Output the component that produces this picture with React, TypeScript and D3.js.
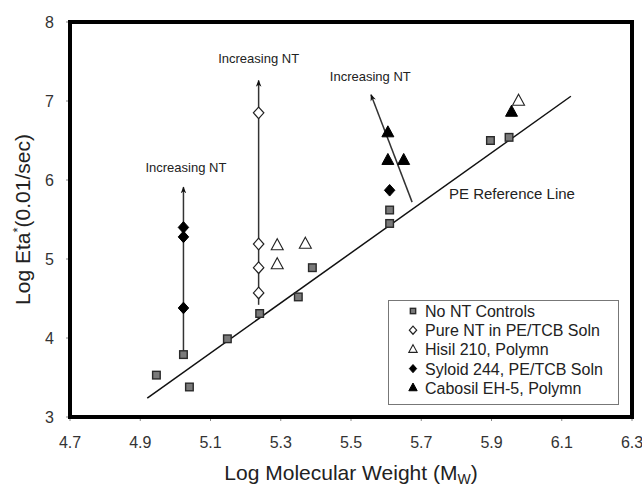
import React from "react";
import * as d3 from "d3";

const W = 642, H = 487;
const M = { left: 70, right: 632, top: 22, bottom: 417 };

const xTicks = [4.7, 4.9, 5.1, 5.3, 5.5, 5.7, 5.9, 6.1, 6.3];
const yTicks = [3, 4, 5, 6, 7, 8];

const controlsX = [4.946, 5.023, 5.04, 5.148, 5.24, 5.35, 5.39, 5.61, 5.61, 5.897, 5.95];
const controlsY = [3.53, 3.79, 3.38, 3.99, 4.31, 4.52, 4.89, 5.62, 5.45, 6.5, 6.54];

const pureX = [5.237, 5.237, 5.237, 5.237];
const pureY = [6.85, 5.19, 4.89, 4.57];

const hisilX = [5.29, 5.29, 5.37, 5.977];
const hisilY = [5.17, 4.93, 5.19, 7.0];

const syloidX = [5.023, 5.023, 5.023, 5.61];
const syloidY = [5.4, 5.28, 4.38, 5.87];

const cabosilX = [5.605, 5.605, 5.65, 5.957];
const cabosilY = [6.6, 6.25, 6.25, 6.86];

const refLineX = [4.92, 6.126];
const refLineY = [3.24, 7.06];

// arrows: [x0, y0, x1, y1]
const arrowsX0 = [5.023, 5.237, 5.674];
const arrowsY0 = [3.79, 4.42, 5.72];
const arrowsX1 = [5.023, 5.237, 5.557];
const arrowsY1 = [5.91, 7.26, 7.08];
const arrowLabelX = [5.03, 5.237, 5.555];
const arrowLabelY = [6.1, 7.48, 7.25];

const legendLabels = [
  "No NT Controls",
  "Pure NT in PE/TCB Soln",
  "Hisil 210, Polymn",
  "Syloid 244, PE/TCB Soln",
  "Cabosil EH-5, Polymn",
];

const FONT = "'Liberation Sans', Arial, sans-serif";

const x = d3.scaleLinear().domain([4.7, 6.3]).range([M.left, M.right]);
const y = d3.scaleLinear().domain([3, 8]).range([M.bottom, M.top]);

function Marker({ kind, cx, cy, s = 1 }: { kind: string; cx: number; cy: number; s?: number }) {
  if (kind === "square") {
    const h = 3.8 * s;
    return <rect x={cx - h} y={cy - h} width={2 * h} height={2 * h} fill="#7a7a7a" stroke="#2a2a2a" strokeWidth={1.4} />;
  }
  if (kind === "diamond" || kind === "fdiamond") {
    const r = 5.8 * s;
    const d = `M${cx},${cy - r}L${cx + r * 0.9},${cy}L${cx},${cy + r}L${cx - r * 0.9},${cy}Z`;
    return kind === "diamond" ? (
      <path d={d} fill="#fff" stroke="#222" strokeWidth={1.2} />
    ) : (
      <path d={d} fill="#000" stroke="#000" strokeWidth={1} />
    );
  }
  const r = 6.8 * s;
  const d = `M${cx},${cy - r}L${cx + r * 0.88},${cy + r * 0.62}L${cx - r * 0.88},${cy + r * 0.62}Z`;
  return kind === "triangle" ? (
    <path d={d} fill="#fff" stroke="#222" strokeWidth={1.1} />
  ) : (
    <path d={d} fill="#000" stroke="#000" strokeWidth={1} />
  );
}

export default function App() {
  const series = [
    { kind: "square", xs: controlsX, ys: controlsY },
    { kind: "diamond", xs: pureX, ys: pureY },
    { kind: "triangle", xs: hisilX, ys: hisilY },
    { kind: "fdiamond", xs: syloidX, ys: syloidY },
    { kind: "ftriangle", xs: cabosilX, ys: cabosilY },
  ];
  const legendKinds = ["square", "diamond", "triangle", "fdiamond", "ftriangle"];
  const line = d3.line<number>().x((_, i) => x(refLineX[i])).y((v) => y(v));

  return (
    <svg width={W} height={H} style={{ position: "absolute", left: 0, top: 0, background: "#fff" }} fontFamily={FONT}>
      <defs>
        <marker id="ah" viewBox="0 0 10 10" refX="9" refY="5" markerWidth="7" markerHeight="9" orient="auto" markerUnits="userSpaceOnUse">
          <path d="M0,1 L10,5 L0,9 L3,5 Z" fill="#111" />
        </marker>
      </defs>
      <rect x={0} y={0} width={W} height={H} fill="#fff" />

      {/* ticks */}
      {xTicks.map((t) => (
        <g key={"xt" + t}>
          <line x1={x(t)} x2={x(t)} y1={M.bottom} y2={M.bottom + 4} stroke="#888" strokeWidth={1} />
          <text x={x(t)} y={448} textAnchor="middle" fontSize={16} fill="#333">
            {t.toFixed(1)}
          </text>
        </g>
      ))}
      {yTicks.map((t) => (
        <g key={"yt" + t}>
          <line x1={M.left - 4} x2={M.left} y1={y(t)} y2={y(t)} stroke="#888" strokeWidth={1} />
          <text x={54} y={y(t) + 6} textAnchor="end" fontSize={16} fill="#333">
            {t}
          </text>
        </g>
      ))}

      {/* reference line */}
      <path d={line(refLineY) || ""} fill="none" stroke="#111" strokeWidth={1.5} />
      <text x={449} y={199} fontSize={15} fill="#222">PE Reference Line</text>

      {/* arrows */}
      {arrowsX0.map((_, i) => (
        <g key={"ar" + i}>
          <line
            x1={x(arrowsX0[i])}
            y1={y(arrowsY0[i])}
            x2={x(arrowsX1[i])}
            y2={y(arrowsY1[i])}
            stroke="#333"
            strokeWidth={1.5}
            markerEnd="url(#ah)"
          />
          <text x={x(arrowLabelX[i])} y={y(arrowLabelY[i])} textAnchor="middle" fontSize={13} fill="#222">
            Increasing NT
          </text>
        </g>
      ))}

      {/* points */}
      {series.map((s) =>
        s.xs.map((xv, i) => <Marker key={s.kind + i} kind={s.kind} cx={x(xv)} cy={y(s.ys[i])} />)
      )}

      {/* frame */}
      <rect x={M.left} y={M.top} width={M.right - M.left} height={M.bottom - M.top} fill="none" stroke="#000" strokeWidth={4} />

      {/* legend */}
      <rect x={388.5} y={300.5} width={230} height={104} fill="#fff" stroke="#777" strokeWidth={1} />
      {legendLabels.map((lab, i) => (
        <g key={"lg" + i}>
          <Marker kind={legendKinds[i]} cx={413} cy={311 + i * 19.2} s={0.7} />
          <text x={425} y={317 + i * 19.2} fontSize={16} fill="#222">
            {lab}
          </text>
        </g>
      ))}

      {/* axis titles */}
      <text x={351} y={480} textAnchor="middle" fontSize={21} fill="#222">
        Log Molecular Weight (M
        <tspan fontSize={14} dy={4}>W</tspan>
        <tspan dy={-4}>)</tspan>
      </text>
      <text transform={`translate(30,${(M.top + M.bottom) / 2}) rotate(-90)`} textAnchor="middle" fontSize={21} fill="#222">
        Log Eta
        <tspan fontSize={13} dy={-8}>*</tspan>
        <tspan dy={8}>(0.01/sec)</tspan>
      </text>
    </svg>
  );
}
